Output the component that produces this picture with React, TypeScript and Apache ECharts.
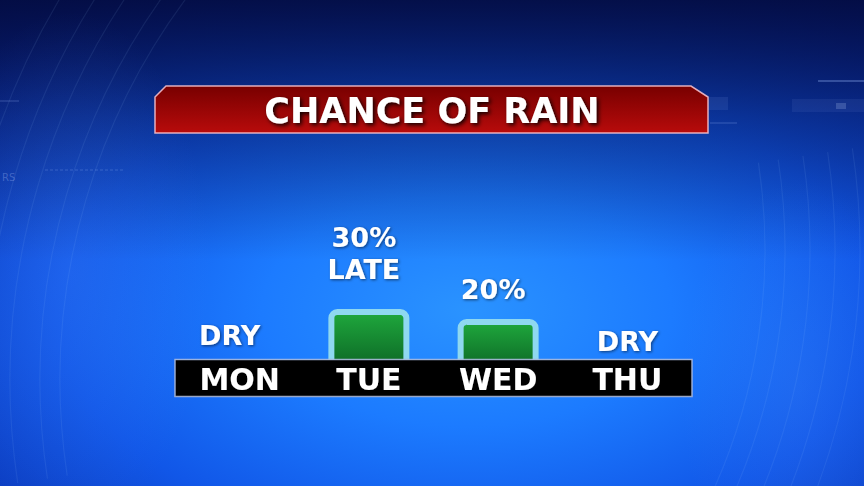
import React, { useEffect, useRef } from "react";
import * as echarts from "echarts";

const days = ["MON", "TUE", "WED", "THU"];
const rainChance = [0, 30, 20, 0];
const valueLabels = ["DRY", "30%\nLATE", "20%", "DRY"];
const titleText = "CHANCE OF RAIN";
// per-label nudges [dx, dy] in pixels (layout only)
const labelNudge = [
  [-10, 12],
  [-5, -24],
  [-5, -14],
  [0, 18],
];

const FONT = "DejaVu Sans";

export default function App() {
  const ref = useRef<HTMLDivElement>(null);

  useEffect(() => {
    document.body.style.margin = "0";
    const chart = echarts.init(ref.current!, null, { renderer: "svg" });

    const decor: any[] = [];
    // background
    decor.push({
      type: "rect",
      z: -20,
      shape: { x: 0, y: 0, width: 864, height: 486 },
      style: {
        fill: new echarts.graphic.RadialGradient(0.54, 0.64, 0.95, [
          { offset: 0, color: "#2a93ff" },
          { offset: 0.25, color: "#1c7bff" },
          { offset: 0.5, color: "#1157e8" },
          { offset: 0.75, color: "#0b36b6" },
          { offset: 1, color: "#071a76" },
        ]),
      },
    });
    decor.push({
      type: "rect",
      z: -19,
      shape: { x: 0, y: 0, width: 864, height: 260 },
      style: {
        fill: new echarts.graphic.LinearGradient(0, 0, 0, 1, [
          { offset: 0, color: "rgba(3,10,60,0.9)" },
          { offset: 0.45, color: "rgba(3,10,60,0.45)" },
          { offset: 1, color: "rgba(3,10,60,0)" },
        ]),
      },
    });
    decor.push({
      type: "ellipse",
      z: -18,
      shape: { cx: 70, cy: 270, rx: 140, ry: 260 },
      style: {
        fill: new echarts.graphic.RadialGradient(0.5, 0.5, 0.5, [
          { offset: 0, color: "rgba(90,150,255,0.18)" },
          { offset: 1, color: "rgba(90,150,255,0)" },
        ]),
      },
    });
    decor.push({
      type: "ellipse",
      z: -18,
      shape: { cx: 800, cy: 390, rx: 120, ry: 210 },
      style: {
        fill: new echarts.graphic.RadialGradient(0.5, 0.5, 0.5, [
          { offset: 0, color: "rgba(90,150,255,0.16)" },
          { offset: 1, color: "rgba(90,150,255,0)" },
        ]),
      },
    });
    [640, 660, 690, 715, 745].forEach((r) => {
      decor.push({
        type: "arc",
        z: -17,
        shape: { cx: 700, cy: 380, r, startAngle: Math.PI - 0.15, endAngle: Math.PI + 0.72, clockwise: true },
        style: { stroke: "rgba(170,210,255,0.09)", lineWidth: 1.2, fill: null },
      });
    });
    [585, 605, 630, 655, 680].forEach((r) => {
      decor.push({
        type: "arc",
        z: -17,
        shape: { cx: 180, cy: 250, r, startAngle: -0.15, endAngle: 0.45, clockwise: true },
        style: { stroke: "rgba(170,210,255,0.09)", lineWidth: 1.2, fill: null },
      });
    });
    // small tech marks
    decor.push(
      { type: "rect", z: -16, shape: { x: 708, y: 97, width: 20, height: 13 }, style: { fill: "rgba(160,190,255,0.1)" } },
      { type: "line", z: -16, shape: { x1: 710, y1: 123, x2: 737, y2: 123 }, style: { stroke: "rgba(160,190,255,0.3)", lineWidth: 1 } },
      { type: "rect", z: -16, shape: { x: 792, y: 99, width: 72, height: 13 }, style: { fill: "rgba(160,190,255,0.08)" } },
      { type: "rect", z: -16, shape: { x: 836, y: 103, width: 10, height: 6 }, style: { fill: "rgba(200,220,255,0.2)" } },
      { type: "line", z: -16, shape: { x1: 818, y1: 81, x2: 864, y2: 81 }, style: { stroke: "rgba(160,190,255,0.3)", lineWidth: 2 } },
      { type: "line", z: -16, shape: { x1: 0, y1: 101, x2: 19, y2: 101 }, style: { stroke: "rgba(160,190,255,0.3)", lineWidth: 1 } },
      { type: "line", z: -16, shape: { x1: 45, y1: 170, x2: 125, y2: 170 }, style: { stroke: "rgba(160,190,255,0.25)", lineWidth: 1, lineDash: [3, 2] } },
      { type: "text", z: -16, style: { x: 2, y: 177, text: "RS", fill: "rgba(180,200,255,0.3)", font: "10px " + FONT, verticalAlign: "middle" } }
    );
    // title banner
    decor.push({
      type: "polygon",
      z: 1,
      shape: {
        points: [
          [155, 97],
          [166, 86],
          [691, 86],
          [708, 97],
          [708, 133],
          [155, 133],
        ],
      },
      style: {
        fill: new echarts.graphic.LinearGradient(0, 0, 0, 1, [
          { offset: 0, color: "#780000" },
          { offset: 1, color: "#b80b0b" },
        ]),
        stroke: "rgba(255,200,210,0.85)",
        lineWidth: 1.5,
      },
    });
    // day band outline
    decor.push({
      type: "rect",
      z: 100,
      shape: { x: 175, y: 359.5, width: 517, height: 37 },
      style: { fill: null, stroke: "rgba(170,185,220,0.9)", lineWidth: 1.5 },
    });

    const shadow = {
      textShadowColor: "rgba(0,0,0,0.55)",
      textShadowBlur: 3,
      textShadowOffsetX: 1,
      textShadowOffsetY: 1,
    };

    chart.setOption({
      animation: false,
      backgroundColor: "#0a3ccc",
      title: {
        text: titleText,
        left: "center",
        top: 93,
        padding: 0,
        textStyle: {
          color: "#ffffff",
          fontSize: 35,
          fontWeight: "bold",
          fontFamily: FONT,
          lineHeight: 36,
          textShadowColor: "rgba(0,0,0,0.9)",
          textShadowBlur: 4,
          textShadowOffsetX: 2,
          textShadowOffsetY: 2,
        },
      },
      graphic: { elements: decor },
      grid: { left: 175, right: 172, top: 139, bottom: 108 },
      xAxis: {
        type: "category",
        data: days,
        z: 5,
        axisLine: { show: true, onZero: false, lineStyle: { color: "#000000", width: 37, cap: "butt" } },
        axisTick: { show: false },
        splitLine: { show: false },
        axisLabel: {
          color: "#ffffff",
          fontSize: 30,
          fontWeight: "bold",
          fontFamily: FONT,
          verticalAlign: "middle",
          margin: 1,
          ...shadow,
        },
      },
      yAxis: {
        type: "value",
        min: -39,
        max: 200,
        startValue: -39,
        show: false,
        splitLine: { show: false },
      },
      series: [
        {
          type: "bar",
          barWidth: 81,
          data: rainChance.map((v, i) => ({
            value: v,
            itemStyle: v > 0 ? undefined : { color: "rgba(0,0,0,0)", borderWidth: 0 },
            label: { offset: labelNudge[i] },
          })),
          itemStyle: {
            color: new echarts.graphic.LinearGradient(0, 0, 0, 1, [
              { offset: 0, color: "#1fa83d" },
              { offset: 1, color: "#0a5f22" },
            ]),
            borderColor: "#8fd8f0",
            borderWidth: 6,
            borderRadius: [6, 6, 0, 0],
          },
          label: {
            show: true,
            position: "top",
            distance: 0,
            formatter: (p: any) => valueLabels[p.dataIndex],
            color: "#ffffff",
            fontSize: 27,
            lineHeight: 32,
            fontWeight: "bold",
            fontFamily: FONT,
            ...shadow,
          },
        },
      ],
    });

    return () => chart.dispose();
  }, []);

  return (
    <div
      ref={ref}
      style={{ position: "fixed", left: 0, top: 0, width: 864, height: 486 }}
    />
  );
}
